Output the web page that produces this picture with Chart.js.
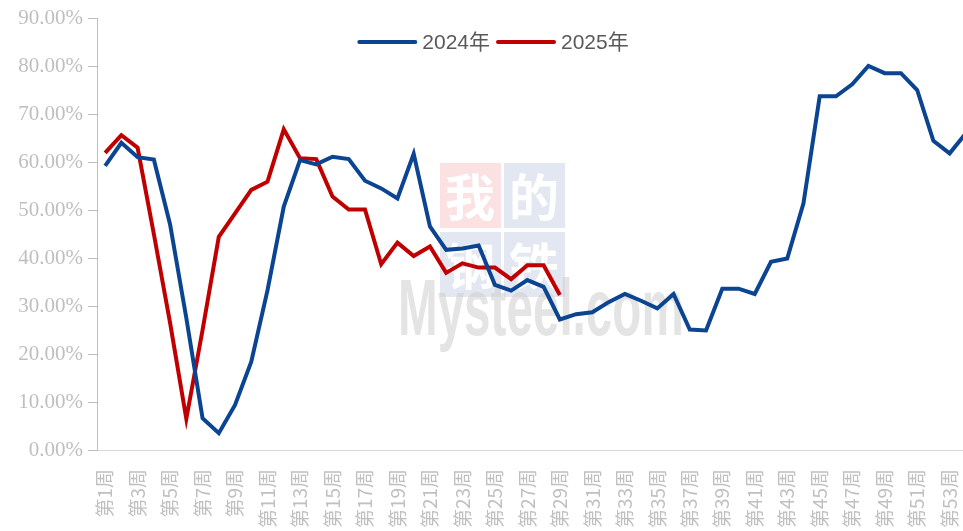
<!DOCTYPE html>
<html>
<head>
<meta charset="utf-8">
<script src="https://cdn.jsdelivr.net/npm/chart.js@4.4.1/dist/chart.umd.min.js"></script>
<style>
    html, body { margin: 0; padding: 0; background: #fff; overflow: hidden; }
    canvas { display: block; }
</style>
</head>
<body>
<canvas id="rateChart" width="974" height="560"></canvas>
<script>
// Week labels (第1周 ... 第54周)
const weeks = [];
for (let i = 1; i <= 54; i++) weeks.push('第' + i + '周');

// 2024年 weekly rate (%)
const values2024 = [
    59.2, 64.0, 61.0, 60.5, 47.0, 27.5, 6.6, 3.5, 9.4, 18.4,
    33.3, 50.7, 60.4, 59.5, 61.1, 60.6, 56.1, 54.5, 52.4, 61.7,
    46.6, 41.7, 42.0, 42.6, 34.4, 33.2, 35.4, 34.0, 27.2, 28.3,
    28.7, 30.8, 32.5, 31.1, 29.5, 32.5, 25.1, 24.9, 33.6, 33.6,
    32.5, 39.2, 39.9, 51.4, 73.7, 73.7, 76.2, 80.0, 78.5, 78.5,
    75.0, 64.4, 61.8, 66.0
];

// 2025年 weekly rate (%)
const values2025 = [
    61.9, 65.6, 63.0, 45.0, 26.5, 6.5, 25.0, 44.4, 49.3, 54.2,
    55.9, 66.8, 60.8, 60.6, 52.8, 50.1, 50.1, 38.7, 43.2, 40.4,
    42.4, 36.9, 38.9, 38.0, 38.0, 35.6, 38.5, 38.5, 32.3
];

const seriesNames = ['2024年', '2025年'];
const seriesColors = ['#0b4592', '#c00000'];

// Faint Mysteel watermark behind the lines
const watermark = {
    id: 'watermark',
    beforeDatasetsDraw(chart) {
        const ctx = chart.ctx;
        ctx.save();
        const cells = [
            { x: 440, y: 163, fill: '#fbe1e1', ch: '我' },
            { x: 504, y: 163, fill: '#e3e7f1', ch: '的' },
            { x: 440, y: 232, fill: '#e3e7f1', ch: '钢' },
            { x: 504, y: 232, fill: '#e3e7f1', ch: '铁' }
        ];
        ctx.font = 'bold 50px "Noto Sans CJK SC"';
        ctx.textAlign = 'center';
        ctx.textBaseline = 'middle';
        cells.forEach(c => {
            ctx.fillStyle = c.fill;
            ctx.fillRect(c.x, c.y, 61, 65);
            ctx.fillStyle = '#ffffff';
            ctx.fillText(c.ch, c.x + 30, c.y + 34);
        });
        ctx.translate(398, 335);
        ctx.scale(0.595, 1);
        ctx.font = 'bold 80px "Liberation Sans"';
        ctx.textAlign = 'left';
        ctx.textBaseline = 'alphabetic';
        ctx.fillStyle = 'rgba(205, 205, 205, 0.55)';
        ctx.fillText('Mysteel.com', 0, 0);
        ctx.restore();
    }
};

// Legend drawn over the top of the plot area
const lineLegend = {
    id: 'lineLegend',
    afterDraw(chart) {
        const ctx = chart.ctx;
        const sets = chart.data.datasets;
        const lineLen = 56, gap = 7, itemGap = 8, y = 42;
        ctx.save();
        ctx.font = '21px "Liberation Sans", "Noto Sans CJK SC"';
        const widths = sets.map(ds => ctx.measureText(ds.label).width);
        let total = 0;
        widths.forEach(w => { total += lineLen + gap + w; });
        total += itemGap * (sets.length - 1);
        let x = 494 - total / 2;
        sets.forEach((ds, i) => {
            ctx.strokeStyle = ds.borderColor;
            ctx.lineWidth = 4;
            ctx.lineCap = 'round';
            ctx.beginPath();
            ctx.moveTo(x, y);
            ctx.lineTo(x + lineLen, y);
            ctx.stroke();
            ctx.fillStyle = '#595959';
            ctx.textBaseline = 'middle';
            ctx.fillText(ds.label, x + lineLen + gap, y + 1);
            x += lineLen + gap + widths[i] + itemGap;
        });
        ctx.restore();
    }
};

new Chart(document.getElementById('rateChart'), {
    type: 'line',
    data: {
        labels: weeks,
        datasets: [
            {
                label: seriesNames[0],
                data: values2024,
                borderColor: seriesColors[0],
                backgroundColor: seriesColors[0],
                borderWidth: 4,
                pointRadius: 0,
                tension: 0
            },
            {
                label: seriesNames[1],
                data: values2025,
                borderColor: seriesColors[1],
                backgroundColor: seriesColors[1],
                borderWidth: 4,
                pointRadius: 0,
                tension: 0
            }
        ]
    },
    options: {
        responsive: false,
        animation: false,
        layout: { padding: { top: 18, left: 0, right: 0, bottom: 0 } },
        plugins: {
            legend: { display: false },
            tooltip: { enabled: false }
        },
        scales: {
            x: {
                offset: true,
                afterFit: (scale) => {
                    scale.height = 110;
                    scale.paddingLeft = 0;
                    scale.paddingRight = 0;
                },
                grid: { display: false, drawTicks: false },
                border: { display: true, color: '#d9d9d9', width: 1 },
                ticks: {
                    autoSkip: false,
                    maxRotation: 90,
                    minRotation: 90,
                    padding: 19,
                    color: '#c0c0c0',
                    font: { family: '"Noto Sans CJK SC"', size: 19 },
                    callback: (value, index) => index % 2 === 0 ? weeks[index] : ''
                }
            },
            y: {
                min: 0,
                max: 90,
                afterFit: (scale) => { scale.width = 97; },
                grid: {
                    drawOnChartArea: false,
                    drawTicks: true,
                    tickLength: 9,
                    color: '#bfbfbf'
                },
                border: { display: true, color: '#bfbfbf', width: 1 },
                ticks: {
                    stepSize: 10,
                    padding: 5,
                    color: '#bfbfbf',
                    font: { family: '"Liberation Serif"', size: 21 },
                    callback: (value) => value.toFixed(2) + '%'
                }
            }
        }
    },
    plugins: [watermark, lineLegend]
});
</script>
</body>
</html>
